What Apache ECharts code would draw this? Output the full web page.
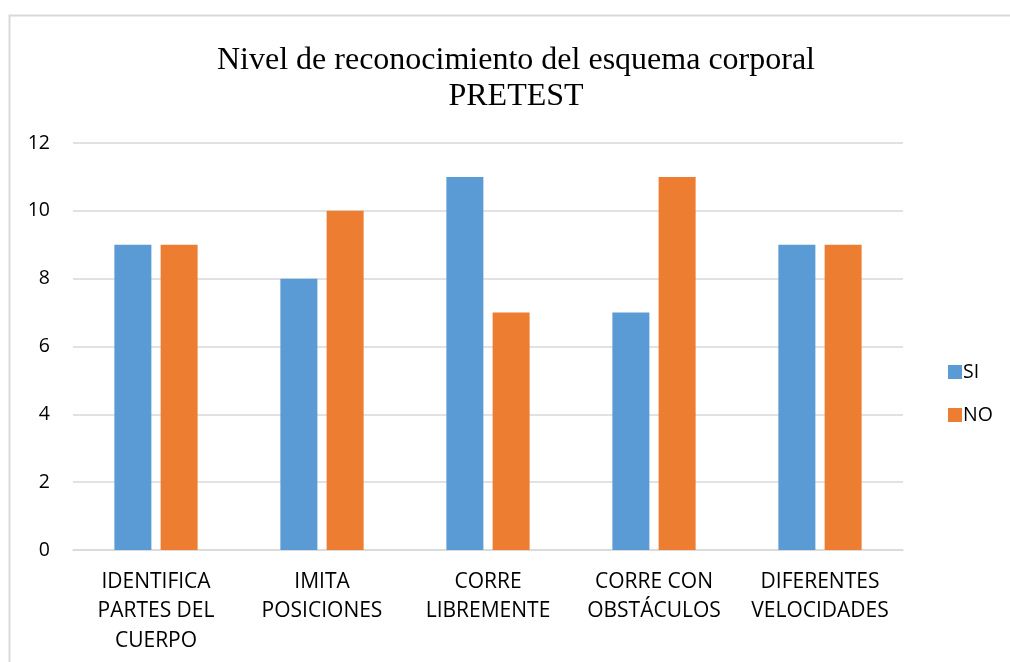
<!DOCTYPE html>
<html>
<head>
<meta charset="utf-8">
<script src="https://cdn.jsdelivr.net/npm/echarts@6/dist/echarts.min.js"></script>
<style>
  html, body { margin: 0; padding: 0; background: #fff; }
  #chart { width: 1010px; height: 662px; }
</style>
</head>
<body>
<div id="chart"></div>
<script>
var categories = ['IDENTIFICA\nPARTES DEL\nCUERPO', 'IMITA\nPOSICIONES', 'CORRE\nLIBREMENTE', 'CORRE CON\nOBSTÁCULOS', 'DIFERENTES\nVELOCIDADES'];
var siValues = [9, 8, 11, 7, 9];
var noValues = [9, 10, 7, 11, 9];
var titleText = 'Nivel de reconocimiento del esquema corporal\nPRETEST';

var myChart = echarts.init(document.getElementById('chart'));
var labelFont = '"Open Sans", "Liberation Sans", sans-serif';

var option = {
  animation: false,
  graphic: [{
    type: 'rect',
    shape: { x: 9.5, y: 15.5, width: 1010, height: 700 },
    style: { fill: 'none', stroke: '#d9d9d9', lineWidth: 2 },
    silent: true
  }],
  title: {
    text: titleText,
    left: 511,
    textAlign: 'center',
    top: 38,
    textStyle: {
      fontFamily: '"Liberation Serif", "Times New Roman", serif',
      fontWeight: 'normal',
      fontSize: 32,
      lineHeight: 36,
      color: '#000'
    }
  },
  legend: {
    orient: 'vertical',
    left: 943,
    top: 357,
    itemWidth: 14,
    itemHeight: 14,
    itemGap: 23,
    icon: 'rect',
    textStyle: { fontFamily: labelFont, fontSize: 19.5, color: '#000', padding: [0, 0, 0, -4] },
    data: ['SI', 'NO']
  },
  grid: { left: 73, right: 107, top: 143, bottom: 112, containLabel: false },
  xAxis: {
    type: 'category',
    data: categories,
    axisLine: { lineStyle: { color: '#d9d9d9', width: 1.5 } },
    axisTick: { show: false },
    axisLabel: {
      interval: 0,
      margin: 17,
      fontFamily: labelFont,
      fontSize: 21,
      lineHeight: 29.5,
      color: '#000'
    }
  },
  yAxis: {
    type: 'value',
    min: 0,
    max: 12,
    interval: 2,
    axisLine: { show: false },
    axisTick: { show: false },
    splitLine: { lineStyle: { color: '#d9d9d9', width: 1.5 } },
    axisLabel: {
      margin: 23,
      fontFamily: labelFont,
      fontSize: 19.5,
      color: '#000'
    }
  },
  series: [
    {
      name: 'SI',
      type: 'bar',
      data: siValues,
      barWidth: 37,
      barGap: '25%',
      itemStyle: { color: '#5b9bd5' }
    },
    {
      name: 'NO',
      type: 'bar',
      data: noValues,
      barWidth: 37,
      itemStyle: { color: '#ed7d31' }
    }
  ]
};

myChart.setOption(option);
</script>
</body>
</html>
